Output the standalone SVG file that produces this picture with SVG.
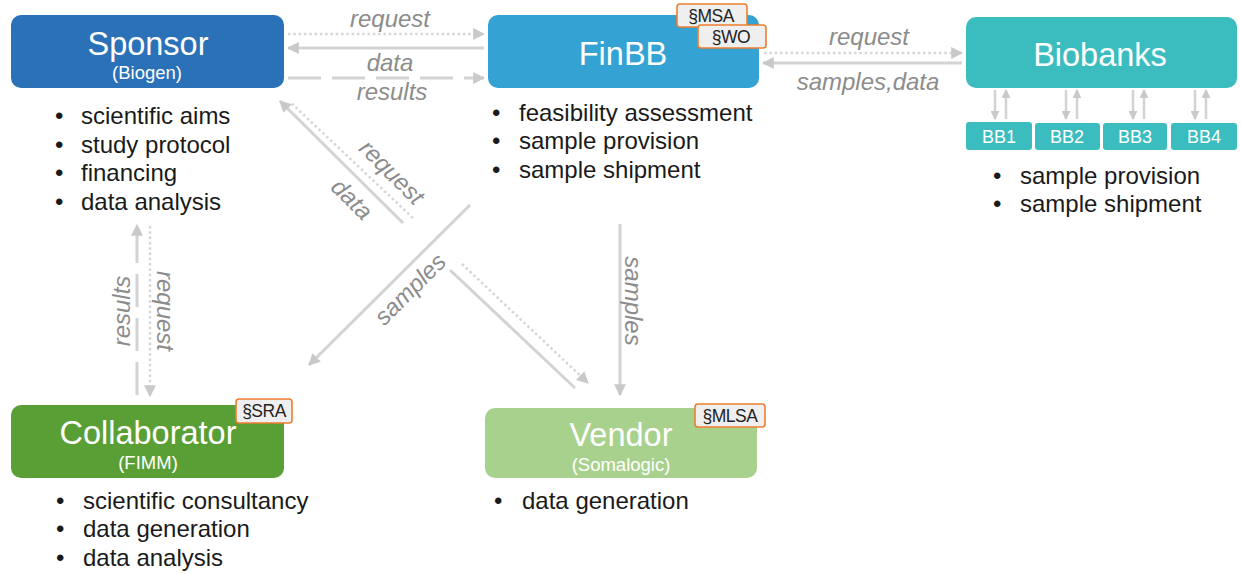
<svg xmlns="http://www.w3.org/2000/svg" width="1241" height="573" viewBox="0 0 1241 573">
<defs>
<marker id="ah" viewBox="0 0 10 10" refX="9" refY="5" markerUnits="userSpaceOnUse" markerWidth="12" markerHeight="12" orient="auto"><path d="M0,0 L10,5 L0,10 z" fill="#c9c9c9"/></marker>
<marker id="ahs" viewBox="0 0 10 10" refX="9" refY="5" markerUnits="userSpaceOnUse" markerWidth="9" markerHeight="9" orient="auto"><path d="M0,0 L10,5 L0,10 z" fill="#c9c9c9"/></marker>
</defs>
<style>
text{font-family:"Liberation Sans",Arial,sans-serif}
.title{fill:#fff;font-size:32.5px;text-anchor:middle}
.sub{fill:#fff;font-size:18.5px;text-anchor:middle}
.bul{fill:#1a1a1a;font-size:24px}
.lbl{fill:#8c8c8c;font-size:24px;font-style:italic;text-anchor:middle}
.tag rect{fill:#efefef;stroke:#ee7d31;stroke-width:1.6}
.tag text{fill:#222;font-size:17.5px;text-anchor:middle;letter-spacing:-0.5px}
.bb{fill:#fff;font-size:18px;text-anchor:middle}
.solid{stroke:#d3d3d3;stroke-width:3;fill:none}
.dot{stroke:#d6d6d6;stroke-width:2.5;stroke-dasharray:2.5 2.8;fill:none}
.dash{stroke:#d3d3d3;stroke-width:3;stroke-dasharray:33 11;fill:none}
.thin{stroke:#d3d3d3;stroke-width:2.5;fill:none}
</style>
<rect width="1241" height="573" fill="#fff"/>
<g id="connectors">
<line class="dot" x1="288" y1="34" x2="484" y2="34" marker-end="url(#ah)"/>
<line class="solid" x1="484" y1="48" x2="288" y2="48" marker-end="url(#ah)"/>
<line class="dash" x1="288" y1="78" x2="484" y2="78" marker-end="url(#ah)"/>
<line class="dot" x1="764" y1="53" x2="962" y2="53" marker-end="url(#ah)"/>
<line class="solid" x1="962" y1="63" x2="763" y2="63" marker-end="url(#ah)"/>
<line class="solid" x1="403" y1="223" x2="280" y2="101" marker-end="url(#ah)"/>
<line class="dot" x1="413" y1="218" x2="290" y2="102"/>
<line class="solid" x1="470" y1="205" x2="309" y2="365" marker-end="url(#ah)"/>
<line class="solid" x1="450" y1="270" x2="575" y2="388"/>
<line class="dot" x1="462" y1="264" x2="588" y2="383" marker-end="url(#ah)"/>
<line class="solid" x1="620" y1="224" x2="620" y2="395" marker-end="url(#ah)"/>
<line class="dash" x1="137" y1="395" x2="137" y2="225" marker-end="url(#ah)"/>
<line class="dot" x1="150" y1="226" x2="150" y2="396" marker-end="url(#ah)"/>
<line class="thin" x1="995" y1="90" x2="995" y2="119" marker-end="url(#ahs)"/>
<line class="thin" x1="1006" y1="119" x2="1006" y2="90" marker-end="url(#ahs)"/>
<line class="thin" x1="1066" y1="90" x2="1066" y2="119" marker-end="url(#ahs)"/>
<line class="thin" x1="1077" y1="119" x2="1077" y2="90" marker-end="url(#ahs)"/>
<line class="thin" x1="1133" y1="90" x2="1133" y2="119" marker-end="url(#ahs)"/>
<line class="thin" x1="1144" y1="119" x2="1144" y2="90" marker-end="url(#ahs)"/>
<line class="thin" x1="1195" y1="90" x2="1195" y2="119" marker-end="url(#ahs)"/>
<line class="thin" x1="1206" y1="119" x2="1206" y2="90" marker-end="url(#ahs)"/>
<text class="lbl" x="390" y="27">request</text>
<text class="lbl" x="390" y="71">data</text>
<text class="lbl" x="392" y="100">results</text>
<text class="lbl" x="869" y="45">request</text>
<text class="lbl" x="868" y="90">samples,data</text>
<text class="lbl" transform="translate(392,172) rotate(45)" dy="0.35em">request</text>
<text class="lbl" transform="translate(352,199) rotate(45)" dy="0.35em">data</text>
<text class="lbl" transform="translate(410,289) rotate(-45)" dy="0.35em">samples</text>
<text class="lbl" transform="translate(633,301) rotate(90)" dy="0.35em">samples</text>
<text class="lbl" transform="translate(122,311) rotate(-90)" dy="0.35em">results</text>
<text class="lbl" transform="translate(165,311) rotate(90)" dy="0.35em">request</text>
</g>
<g id="sponsor">
<rect x="11" y="15" width="273" height="73" rx="10" fill="#2b71b8"/>
<text class="title" x="148" y="55">Sponsor</text>
<text class="sub" x="147" y="79">(Biogen)</text>
<text class="bul" x="55" y="124">•</text><text class="bul" x="81" y="124">scientific aims</text>
<text class="bul" x="55" y="153">•</text><text class="bul" x="81" y="153">study protocol</text>
<text class="bul" x="55" y="181">•</text><text class="bul" x="81" y="181">financing</text>
<text class="bul" x="55" y="210">•</text><text class="bul" x="81" y="210">data analysis</text>
</g>
<g id="finbb">
<rect x="488" y="15" width="271" height="73" rx="10" fill="#34a2d3"/>
<text class="title" x="623" y="65">FinBB</text>
<g class="tag"><rect x="677" y="4" width="70" height="23" rx="3"/><text x="711" y="22">§MSA</text></g>
<g class="tag"><rect x="698" y="25" width="68" height="23" rx="3"/><text x="731" y="43">§WO</text></g>
<text class="bul" x="492" y="121">•</text><text class="bul" x="519" y="121">feasibility assessment</text>
<text class="bul" x="492" y="149">•</text><text class="bul" x="519" y="149">sample provision</text>
<text class="bul" x="492" y="178">•</text><text class="bul" x="519" y="178">sample shipment</text>
</g>
<g id="biobanks">
<rect x="966" y="17" width="271" height="71" rx="10" fill="#3bbdbf"/>
<text class="title" x="1100" y="66">Biobanks</text>
<text class="bul" x="993" y="184">•</text><text class="bul" x="1020" y="184">sample provision</text>
<text class="bul" x="993" y="212">•</text><text class="bul" x="1020" y="212">sample shipment</text>
</g>
<g id="bb1"><rect x="966" y="122" width="66" height="28" rx="3" fill="#3bbdbf"/><text class="bb" x="999" y="143">BB1</text></g>
<g id="bb2"><rect x="1035" y="123" width="65" height="27" rx="3" fill="#3bbdbf"/><text class="bb" x="1067" y="143">BB2</text></g>
<g id="bb3"><rect x="1103" y="123" width="64" height="27" rx="3" fill="#3bbdbf"/><text class="bb" x="1135" y="143">BB3</text></g>
<g id="bb4"><rect x="1171" y="123" width="66" height="27" rx="3" fill="#3bbdbf"/><text class="bb" x="1204" y="143">BB4</text></g>
<g id="collaborator">
<rect x="11" y="405" width="273" height="73" rx="10" fill="#5a9f35"/>
<text class="title" x="148" y="444">Collaborator</text>
<text class="sub" x="148" y="469">(FIMM)</text>
<g class="tag"><rect x="236" y="399" width="56" height="24" rx="3"/><text x="264" y="417">§SRA</text></g>
<text class="bul" x="56" y="509">•</text><text class="bul" x="83" y="509">scientific consultancy</text>
<text class="bul" x="56" y="537">•</text><text class="bul" x="83" y="537">data generation</text>
<text class="bul" x="56" y="566">•</text><text class="bul" x="83" y="566">data analysis</text>
</g>
<g id="vendor">
<rect x="485" y="408" width="272" height="70" rx="10" fill="#a9d18e"/>
<text class="title" x="621" y="446">Vendor</text>
<text class="sub" x="621" y="471">(Somalogic)</text>
<g class="tag"><rect x="695" y="404" width="70" height="23" rx="3"/><text x="730" y="422">§MLSA</text></g>
<text class="bul" x="494" y="509">•</text><text class="bul" x="522" y="509">data generation</text>
</g>
</svg>
